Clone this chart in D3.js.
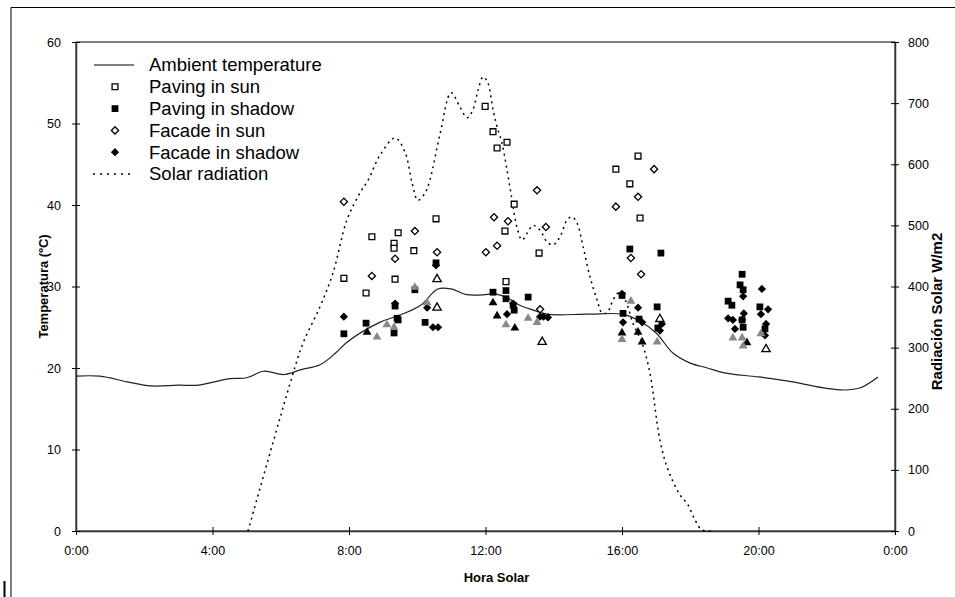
<!DOCTYPE html>
<html>
<head>
<meta charset="utf-8">
<script src="https://cdn.jsdelivr.net/npm/d3@7"></script>
<style>
  body { margin: 0; background: #fff; }
  svg { display: block; font-family: "Liberation Sans", Arial, sans-serif; }
  .axis text { font-size: 12.5px; fill: #000; }
  .axis-title { font-weight: bold; font-size: 13px; }
  .legend-text { font-size: 18.5px; }
</style>
</head>
<body>
<svg id="chart"></svg>
<script>
// ambient temperature (hour, degC)
const ambientHours = [0, 0.7, 1.5, 2.2, 3, 3.6, 4.5, 5.0, 5.5, 6.1, 6.6, 7.15, 7.6, 7.95, 8.9, 9.5, 10.1, 10.6, 11.0, 11.45,
  12.0, 12.25, 12.65, 13.0, 13.4, 13.8, 15.0, 16.0, 16.5, 17.0, 17.5, 18.0, 18.5, 19.0, 20.0, 21.0, 22.0, 22.5, 23.0, 23.5];
const ambientTemp = [19.0, 19.0, 18.3, 17.8, 17.9, 17.9, 18.7, 18.8, 19.6, 19.2, 19.8, 20.4, 21.8, 23.2, 25.6, 26.5, 27.7, 29.7, 29.7, 29.0,
  29.0, 29.1, 28.6, 27.7, 27.1, 26.6, 26.6, 26.6, 25.8, 24.3, 21.8, 20.6, 20.0, 19.4, 18.9, 18.3, 17.5, 17.3, 17.6, 18.9];

// solar radiation (hour, W/m2)
const solarHours = [5.04, 6.33, 6.65, 7.15, 7.53, 7.94, 8.32, 8.56, 8.91, 9.35, 9.64, 9.85, 10.02, 10.23, 10.37, 10.67, 10.99,
  11.25, 11.46, 11.63, 11.78, 11.93, 12.07, 12.22, 12.34, 12.48, 12.63, 12.78, 12.92, 13.07, 13.22, 13.39, 13.6, 13.8, 13.98,
  14.18, 14.39, 14.53, 14.68, 14.86, 15.06, 15.27, 15.41, 15.56, 15.74, 15.88, 16.09, 16.32, 16.59, 16.82, 17.11, 17.35,
  17.7, 17.93, 18.14, 18.34, 18.72];
const solarRad = [0, 252, 307, 367, 422, 509, 553, 574, 615, 643, 620, 569, 541, 553, 574, 650, 717,
  694, 676, 689, 721, 743, 733, 689, 661, 635, 591, 541, 497, 476, 487, 500, 492, 473, 468,
  481, 509, 514, 504, 465, 416, 378, 357, 357, 378, 389, 378, 340, 307, 258, 149, 100,
  59, 43, 18, 2, 0];

// measured surface temperatures [hour, degC]
const pavingSun = [[7.85, 31.0], [8.67, 36.1], [8.5, 29.2], [9.44, 36.6], [9.32, 35.3], [9.32, 34.7], [9.35, 30.9], [9.9, 34.4],
  [10.55, 38.3], [11.99, 52.1], [12.22, 49.0], [12.63, 47.7], [12.34, 47.0], [12.84, 40.1], [12.57, 36.8], [13.57, 34.1],
  [12.6, 30.6], [15.82, 44.4], [16.47, 46.0], [16.23, 42.6], [16.53, 38.4]];
const pavingShadow = [[7.85, 24.2], [8.5, 25.5], [9.41, 26.1], [9.44, 25.9], [9.32, 24.3], [9.35, 27.6], [9.93, 29.6],
  [10.55, 32.9], [10.23, 25.6], [12.6, 29.5], [12.22, 29.3], [12.6, 28.5], [12.81, 27.7], [12.84, 27.1], [13.25, 28.7],
  [16.23, 34.6], [17.14, 34.1], [16.03, 26.7], [17.05, 24.9], [17.03, 27.5], [16.0, 28.9], [16.5, 26.0],
  [19.52, 31.5], [19.46, 30.2], [19.55, 29.6], [19.11, 28.2], [19.22, 27.7], [20.04, 27.5], [19.55, 25.0], [20.19, 24.8], [19.52, 25.9]];
const facadeSun = [[7.85, 40.4], [8.67, 31.3], [9.35, 33.4], [9.93, 36.8], [10.58, 34.2], [13.51, 41.8], [12.25, 38.5],
  [12.66, 38.0], [13.77, 37.3], [12.01, 34.2], [12.34, 35.0], [13.6, 27.2], [16.94, 44.4], [16.47, 41.0], [15.82, 39.8],
  [16.26, 33.5], [16.56, 31.5]];
const facadeShadow = [[7.85, 26.3], [9.35, 27.9], [10.46, 25.0], [10.61, 25.0], [10.55, 32.6], [10.29, 27.4], [12.63, 26.6],
  [13.6, 26.3], [13.7, 26.3], [13.83, 26.2], [12.81, 27.9], [16.0, 29.1], [16.47, 27.4], [16.03, 25.6], [16.59, 25.6],
  [17.17, 25.4], [17.11, 24.6], [19.55, 28.8], [20.1, 29.7], [20.28, 27.2], [20.07, 26.6], [19.57, 26.7], [19.11, 26.1],
  [19.25, 25.9], [19.52, 25.9], [20.22, 25.4], [19.31, 24.8], [20.19, 24.0]];
const blackTriangles = [[8.53, 24.4], [12.22, 28.0], [12.34, 26.4], [12.86, 24.9], [16.0, 24.3], [16.47, 24.4], [16.59, 23.2], [19.66, 23.1]];
const grayTriangles = [[8.82, 23.8], [9.32, 25.0], [9.11, 25.3], [9.93, 29.9], [10.29, 28.0], [12.6, 25.3], [13.25, 26.1],
  [13.51, 25.6], [16.26, 28.2], [16.0, 23.5], [17.03, 23.2], [19.25, 23.7], [19.52, 23.7], [19.55, 22.7], [20.07, 24.2]];
const openTriangles = [[10.58, 30.9], [10.58, 27.4], [13.66, 23.2], [17.11, 26.0], [20.22, 22.3]];

const hourTicks = [0, 4, 8, 12, 16, 20, 24];
const tempTicks = [0, 10, 20, 30, 40, 50, 60];
const radTicks = [0, 100, 200, 300, 400, 500, 600, 700, 800];

const legendLabels = ['Ambient temperature', 'Paving in sun', 'Paving in shadow', 'Facade in sun', 'Facade in shadow', 'Solar radiation'];

class DualAxisChart {

  constructor(_config) {
    this.config = {
      parentElement: _config.parentElement,
      containerWidth: 955,
      containerHeight: 597,
      margin: {top: 42, right: 60, bottom: 66, left: 76}
    };
    this.initVis();
  }

  initVis() {
    let vis = this;

    vis.width = vis.config.containerWidth - vis.config.margin.left - vis.config.margin.right;
    vis.height = vis.config.containerHeight - vis.config.margin.top - vis.config.margin.bottom;

    vis.xScale = d3.scaleLinear().domain([0, 24]).range([0, vis.width]);
    vis.yScale = d3.scaleLinear().domain([0, 60]).range([vis.height, 0]);
    vis.yRadScale = d3.scaleLinear().domain([0, 800]).range([vis.height, 0]);

    vis.svg = d3.select(vis.config.parentElement)
        .attr('width', vis.config.containerWidth)
        .attr('height', vis.config.containerHeight);

    // outer frame of the picture
    vis.svg.append('path')
        .attr('d', 'M11,597V7.5H955')
        .attr('fill', 'none')
        .attr('stroke', '#000');
    vis.svg.append('line')
        .attr('x1', 4.5).attr('x2', 4.5).attr('y1', 581).attr('y2', 597)
        .attr('stroke', '#000').attr('stroke-width', 2);

    vis.chart = vis.svg.append('g')
        .attr('transform', `translate(${vis.config.margin.left},${vis.config.margin.top})`);

    vis.chart.append('rect')
        .attr('width', vis.width)
        .attr('height', vis.height)
        .attr('fill', 'none')
        .attr('stroke', '#000');

    vis.xAxis = d3.axisBottom(vis.xScale).tickValues(hourTicks)
        .tickFormat(d => `${d % 24}:00`).tickSizeOuter(0).tickSizeInner(4).tickPadding(11);
    vis.yAxis = d3.axisLeft(vis.yScale).tickValues(tempTicks).tickSizeOuter(0).tickSizeInner(4).tickPadding(11);
    vis.yRadAxis = d3.axisRight(vis.yRadScale).tickValues(radTicks).tickSizeOuter(0).tickSizeInner(4).tickPadding(9);

    vis.xAxisG = vis.chart.append('g').attr('class', 'axis').attr('transform', `translate(0,${vis.height})`);
    vis.yAxisG = vis.chart.append('g').attr('class', 'axis');
    vis.yRadAxisG = vis.chart.append('g').attr('class', 'axis').attr('transform', `translate(${vis.width},0)`);

    vis.chart.append('text')
        .attr('class', 'axis-title')
        .attr('x', vis.width / 2 + 11)
        .attr('y', vis.height + 51)
        .attr('text-anchor', 'middle')
        .text('Hora Solar');

    vis.chart.append('text')
        .attr('class', 'axis-title')
        .attr('transform', `translate(-33,${vis.height / 2}) rotate(-90)`)
        .attr('text-anchor', 'middle')
        .attr('dy', '0.35em')
        .text('Temperatura (ºC)');

    vis.chart.append('text')
        .attr('class', 'axis-title')
        .style('font-size', '15px')
        .attr('transform', `translate(${vis.width + 42},${vis.height / 2 + 25}) rotate(-90)`)
        .attr('text-anchor', 'middle')
        .attr('dy', '0.35em')
        .text('Radiación Solar W/m2');

    vis.legend = vis.svg.append('g');
  }

  updateVis() {
    let vis = this;
    vis.ambient = ambientHours.map((h, i) => [h, ambientTemp[i]]);
    vis.solar = solarHours.map((h, i) => [h, solarRad[i]]);

    vis.series = [
      {data: pavingSun, type: d3.symbolSquare, size: 34, fill: '#fff', stroke: '#000', rotate: 0},
      {data: facadeSun, type: d3.symbolSquare, size: 26, fill: '#fff', stroke: '#000', rotate: 45},
      {data: pavingShadow, type: d3.symbolSquare, size: 46, fill: '#000', stroke: 'none', rotate: 0},
      {data: facadeShadow, type: d3.symbolSquare, size: 34, fill: '#000', stroke: 'none', rotate: 45},
      {data: blackTriangles, type: d3.symbolTriangle, size: 34, fill: '#000', stroke: 'none', rotate: 0},
      {data: grayTriangles, type: d3.symbolTriangle, size: 34, fill: '#888', stroke: 'none', rotate: 0},
      {data: openTriangles, type: d3.symbolTriangle, size: 30, fill: '#fff', stroke: '#000', rotate: 0}
    ];
    vis.renderVis();
    vis.renderLegend();
  }

  renderVis() {
    let vis = this;

    vis.xAxisG.call(vis.xAxis);
    vis.yAxisG.call(vis.yAxis);
    vis.yRadAxisG.call(vis.yRadAxis);

    // Excel-style ticks crossing the axis line
    vis.xAxisG.selectAll('.tick line').attr('y1', -4).attr('y2', 4);
    vis.yAxisG.selectAll('.tick line').attr('x1', -4).attr('x2', 4);
    vis.yRadAxisG.selectAll('.tick line').attr('x1', -4).attr('x2', 4);
    vis.chart.selectAll('.axis .domain').attr('stroke', '#333').attr('stroke-width', 1.5);
    vis.chart.selectAll('.axis .tick line').attr('stroke', '#000');

    const tempLine = d3.line()
        .x(d => vis.xScale(d[0]))
        .y(d => vis.yScale(d[1]))
        .curve(d3.curveCatmullRom);

    const radLine = d3.line()
        .x(d => vis.xScale(d[0]))
        .y(d => vis.yRadScale(d[1]))
        .curve(d3.curveCatmullRom);

    vis.chart.append('path')
        .datum(vis.solar)
        .attr('d', radLine)
        .attr('fill', 'none')
        .attr('stroke', '#000')
        .attr('stroke-width', 1.5)
        .attr('stroke-dasharray', '2,4');

    vis.chart.append('path')
        .datum(vis.ambient)
        .attr('d', tempLine)
        .attr('fill', 'none')
        .attr('stroke', '#222')
        .attr('stroke-width', 1.2);

    vis.series.forEach(s => {
      vis.chart.append('g')
        .selectAll('path')
          .data(s.data)
        .join('path')
          .attr('d', d3.symbol().type(s.type).size(s.size))
          .attr('transform', d => `translate(${vis.xScale(d[0])},${vis.yScale(d[1])}) rotate(${s.rotate})`)
          .attr('fill', s.fill)
          .attr('stroke', s.stroke)
          .attr('stroke-width', 1.3);
    });
  }

  renderLegend() {
    let vis = this;
    const rowY = i => 65 + i * 21.8;

    vis.legend.selectAll('text')
        .data(legendLabels)
      .join('text')
        .attr('class', 'legend-text')
        .attr('x', 149)
        .attr('y', (d, i) => rowY(i))
        .attr('dy', '0.35em')
        .text(d => d);

    vis.legend.append('line')
        .attr('x1', 94).attr('x2', 134).attr('y1', rowY(0)).attr('y2', rowY(0))
        .attr('stroke', '#000');
    vis.legend.append('line')
        .attr('x1', 93).attr('x2', 132).attr('y1', rowY(5)).attr('y2', rowY(5))
        .attr('stroke', '#000').attr('stroke-width', 1.3).attr('stroke-dasharray', '2,5');

    const legendSymbols = vis.series.slice(0, 4);
    const order = [0, 2, 1, 3];
    order.forEach((k, i) => {
      const s = legendSymbols[k];
      vis.legend.append('path')
          .attr('d', d3.symbol().type(s.type).size(s.size)())
          .attr('transform', `translate(115,${rowY(i + 1)}) rotate(${s.rotate})`)
          .attr('fill', s.fill)
          .attr('stroke', s.stroke)
          .attr('stroke-width', 1.3);
    });
  }
}

const chart = new DualAxisChart({parentElement: '#chart'});
chart.updateVis();
</script>
</body>
</html>
